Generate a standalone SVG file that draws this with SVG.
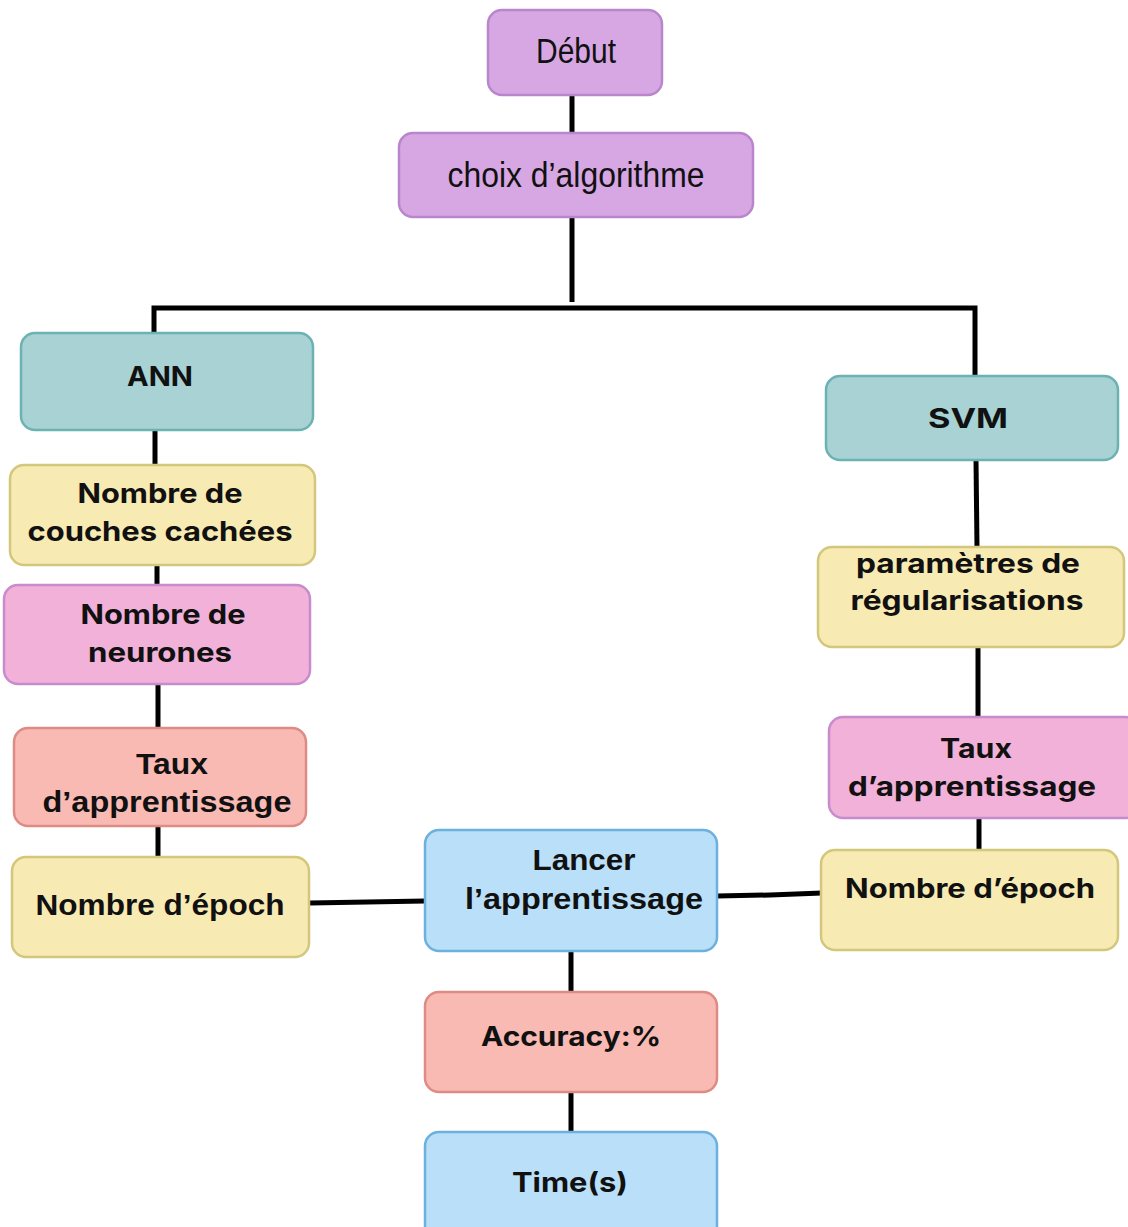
<svg xmlns="http://www.w3.org/2000/svg" width="1128" height="1227" viewBox="0 0 1128 1227">
  <style>
    .box { stroke-width: 2.5; }
    .purple { fill: #d7a7e3; stroke: #b986cb; }
    .teal { fill: #a8d2d3; stroke: #6db2b3; }
    .yellow { fill: #f8eab3; stroke: #d3c77c; }
    .pink { fill: #f2b1d9; stroke: #c88bcb; }
    .salmon { fill: #f9bab4; stroke: #de8b84; }
    .blue { fill: #b9e0f8; stroke: #6cb1de; }
    .bold { font-family: Inter, "Liberation Sans", sans-serif; font-weight: 700; font-size: 27px; fill: #111; text-anchor: middle; }
    .narrow { font-family: "Liberation Sans", sans-serif; font-weight: 700; font-size: 30px; fill: #111; text-anchor: middle; }
    .thin { font-family: "Liberation Sans", sans-serif; font-weight: 400; font-size: 35px; fill: #111; text-anchor: middle; }
    .link { fill: none; stroke: #000; stroke-width: 5; }
  </style>

  <!-- connectors -->
  <g id="connectors">
    <line class="link" x1="572" y1="95" x2="572" y2="133"/>
    <line class="link" x1="572" y1="217" x2="572" y2="302"/>
    <polyline class="link" points="154,333 154,308 975,308 975,376"/>
    <line class="link" x1="155" y1="430" x2="155" y2="465"/>
    <line class="link" x1="157" y1="565" x2="157" y2="585"/>
    <line class="link" x1="158" y1="684" x2="158" y2="728"/>
    <line class="link" x1="158" y1="826" x2="158" y2="857"/>
    <line class="link" x1="310" y1="903" x2="425" y2="901"/>
    <polyline class="link" points="717,896 770,895 822,893"/>
    <line class="link" x1="571" y1="951" x2="571" y2="992"/>
    <line class="link" x1="571" y1="1092" x2="571" y2="1132"/>
    <line class="link" x1="976" y1="460" x2="977" y2="547"/>
    <line class="link" x1="978" y1="647" x2="978" y2="717"/>
    <line class="link" x1="979" y1="818" x2="979" y2="850"/>
  </g>

  <g id="debut">
    <rect class="box purple" x="488" y="10" width="174" height="85" rx="14"/>
    <text class="thin" x="576" y="63" textLength="80" lengthAdjust="spacingAndGlyphs">Début</text>
  </g>

  <g id="choix">
    <rect class="box purple" x="399" y="133" width="354" height="84" rx="14"/>
    <text class="thin" x="576" y="187" textLength="257" lengthAdjust="spacingAndGlyphs">choix d’algorithme</text>
  </g>

  <!-- ANN branch -->
  <g id="ann">
    <rect class="box teal" x="21" y="333" width="292" height="97" rx="14"/>
    <text class="bold" x="160" y="386" textLength="66" lengthAdjust="spacingAndGlyphs">ANN</text>
  </g>

  <g id="ann-couches">
    <rect class="box yellow" x="10" y="465" width="305" height="100" rx="14"/>
    <text class="bold" x="160" y="503" textLength="165" lengthAdjust="spacingAndGlyphs">Nombre de</text>
    <text class="bold" x="160" y="541" textLength="265" lengthAdjust="spacingAndGlyphs">couches cachées</text>
  </g>

  <g id="ann-neurones">
    <rect class="box pink" x="4" y="585" width="306" height="99" rx="14"/>
    <text class="bold" x="163" y="624" textLength="165" lengthAdjust="spacingAndGlyphs">Nombre de</text>
    <text class="bold" x="160" y="662" textLength="144" lengthAdjust="spacingAndGlyphs">neurones</text>
  </g>

  <g id="ann-taux">
    <rect class="box salmon" x="14" y="728" width="292" height="98" rx="14"/>
    <text class="narrow" x="172" y="774" textLength="72" lengthAdjust="spacingAndGlyphs">Taux</text>
    <text class="narrow" x="167" y="812" textLength="249" lengthAdjust="spacingAndGlyphs">d’apprentissage</text>
  </g>

  <g id="ann-epoch">
    <rect class="box yellow" x="12" y="857" width="297" height="100" rx="14"/>
    <text class="narrow" x="160" y="915" textLength="249" lengthAdjust="spacingAndGlyphs">Nombre d’époch</text>
  </g>

  <!-- training and results -->
  <g id="lancer">
    <rect class="box blue" x="425" y="830" width="292" height="121" rx="14"/>
    <text class="narrow" x="584" y="870" textLength="103" lengthAdjust="spacingAndGlyphs">Lancer</text>
    <text class="narrow" x="584" y="909" textLength="238" lengthAdjust="spacingAndGlyphs">l’apprentissage</text>
  </g>

  <g id="accuracy">
    <rect class="box salmon" x="425" y="992" width="292" height="100" rx="14"/>
    <text class="bold" x="571" y="1046" textLength="180" lengthAdjust="spacingAndGlyphs">Accuracy:%</text>
  </g>

  <g id="time">
    <rect class="box blue" x="425" y="1132" width="292" height="108" rx="14"/>
    <text class="bold" x="570" y="1192" textLength="116" lengthAdjust="spacingAndGlyphs">Time(s)</text>
  </g>

  <!-- SVM branch -->
  <g id="svm">
    <rect class="box teal" x="826" y="376" width="292" height="84" rx="14"/>
    <text class="bold" x="968" y="428" font-size="33" textLength="80" lengthAdjust="spacingAndGlyphs">SVM</text>
  </g>

  <g id="svm-regularisation">
    <rect class="box yellow" x="818" y="547" width="306" height="100" rx="14"/>
    <text class="bold" x="968" y="573" textLength="224" lengthAdjust="spacingAndGlyphs">paramètres de</text>
    <text class="bold" x="967" y="610" textLength="233" lengthAdjust="spacingAndGlyphs">régularisations</text>
  </g>

  <g id="svm-taux">
    <rect class="box pink" x="829" y="717" width="310" height="101" rx="14"/>
    <text class="bold" x="976" y="758" textLength="72" lengthAdjust="spacingAndGlyphs">Taux</text>
    <text class="bold" x="972" y="796" textLength="248" lengthAdjust="spacingAndGlyphs">d’apprentissage</text>
  </g>

  <g id="svm-epoch">
    <rect class="box yellow" x="821" y="850" width="297" height="100" rx="14"/>
    <text class="bold" x="970" y="898" textLength="250" lengthAdjust="spacingAndGlyphs">Nombre d’époch</text>
  </g>
</svg>
